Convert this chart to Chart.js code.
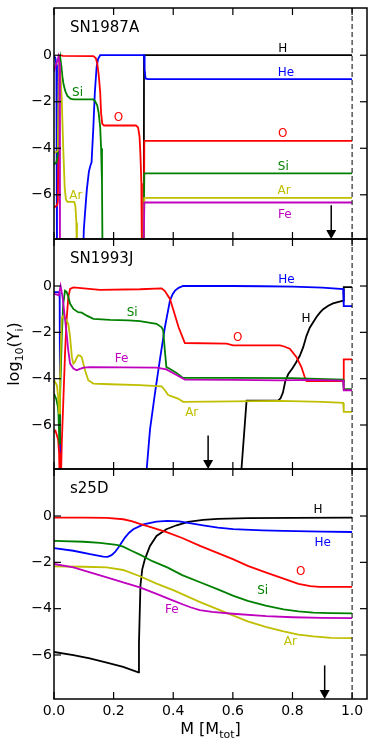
<!DOCTYPE html>
<html><head><meta charset="utf-8">
<script src="https://cdn.jsdelivr.net/npm/chart.js@4.4.1/dist/chart.umd.min.js"></script>
<style>
html,body{margin:0;padding:0;background:#fff;}
#wrap{position:relative;width:374px;height:747px;overflow:hidden;background:#fff;}
.box{position:absolute;left:0;width:374px;}
</style></head><body>
<div id="wrap">
<div class="box" style="top:0px;height:240px"><canvas id="c1"></canvas></div>
<div class="box" style="top:230px;height:240px"><canvas id="c2"></canvas></div>
<div class="box" style="top:460px;height:287px"><canvas id="c3"></canvas></div>
</div>
<script>
// ---------- axes / categories ----------
const X_TICKS = [0, 0.2, 0.4, 0.6, 0.8, 1.0];
const Y_TICKS = [-6, -4, -2, 0];
const X_MIN = 0, X_MAX = 1.05, X_EDGE = 1.0;
const Y_MIN = -7.9, Y_MAX = 2.03;
const SPECIES = ['H', 'He', 'O', 'Si', 'Ar', 'Fe'];
const PANEL_TITLES = ['SN1987A', 'SN1993J', 's25D'];
const ARROW_X = [0.93, 0.517, 0.908];
const ARROW_TOP = -6.45;
const X_TITLE = ['M [M', 'tot', ']'];
const Y_TITLE = ['log', '10', '(Y', 'i', ')'];

// ---------- SN1987A  [mass fraction, log10 Y] ----------
const SN1987A_H = [[0.301,-9],[0.302,0],[1.0,0]];
const SN1987A_He = [[0,-0.05],[0.004,-0.1],[0.008,-0.4],[0.010,-9],[0.097,-9],[0.100,-7.5],[0.104,-6.8],[0.110,-5.8],[0.117,-5.0],[0.122,-4.75],[0.126,-4.6],[0.132,-3.1],[0.137,-1.6],[0.143,-0.5],[0.148,-0.15],[0.155,0],[0.302,0],[0.304,-0.6],[0.307,-1.0],[0.315,-1.03],[1.0,-1.03]];
const SN1987A_O = [[0,-6.55],[0.005,-6.5],[0.010,-6.45],[0.013,-6.3],[0.016,-3.0],[0.018,-0.3],[0.020,-0.05],[0.022,0],[0.030,-0.03],[0.132,-0.04],[0.140,-0.12],[0.145,-0.35],[0.150,-0.85],[0.155,-1.6],[0.158,-2.5],[0.162,-2.95],[0.168,-3.02],[0.275,-3.02],[0.282,-3.1],[0.287,-3.5],[0.290,-4.3],[0.293,-5.5],[0.295,-9],[0.301,-9],[0.303,-3.68],[1.0,-3.68]];
const SN1987A_Si = [[0,-4.7],[0.008,-4.6],[0.013,-4.3],[0.016,-3.0],[0.019,-0.3],[0.021,-0.1],[0.025,-0.5],[0.028,-0.9],[0.032,-1.25],[0.038,-1.55],[0.045,-1.75],[0.055,-1.87],[0.065,-1.9],[0.132,-1.9],[0.138,-1.98],[0.145,-2.15],[0.150,-2.5],[0.155,-3.1],[0.158,-4.0],[0.161,-5.5],[0.163,-9],[0.300,-9],[0.303,-5.08],[1.0,-5.08]];
const SN1987A_Ar = [[0,-4.2],[0.008,-4.15],[0.013,-4.1],[0.015,-2.0],[0.017,-0.4],[0.020,-0.5],[0.022,-0.9],[0.026,-1.9],[0.031,-4.0],[0.036,-5.7],[0.040,-6.2],[0.045,-6.3],[0.068,-6.3],[0.072,-6.5],[0.075,-7.2],[0.077,-9],[0.300,-9],[0.303,-6.13],[1.0,-6.13]];
const SN1987A_Fe = [[0,-0.7],[0.004,-0.5],[0.010,-0.3],[0.015,-0.05],[0.018,-0.3],[0.020,-9],[0.300,-9],[0.303,-6.33],[1.0,-6.33]];

// ---------- SN1993J ----------
const SN1993J_H = [[0.6225,-9],[0.646,-4.95],[0.752,-4.95],[0.760,-4.85],[0.768,-4.6],[0.776,-4.1],[0.786,-3.8],[0.800,-3.55],[0.812,-3.3],[0.825,-3.0],[0.836,-2.64],[0.847,-2.15],[0.858,-1.8],[0.870,-1.55],[0.880,-1.35],[0.892,-1.15],[0.903,-1.0],[0.920,-0.85],[0.936,-0.75],[0.955,-0.68],[0.970,-0.63],[0.972,-0.05],[1.0,-0.05]];
const SN1993J_He = [[0,-0.27],[0.017,-0.27],[0.019,-0.5],[0.021,-9],[0.305,-9],[0.311,-7.9],[0.322,-6.2],[0.339,-4.6],[0.355,-3.2],[0.372,-1.78],[0.389,-0.63],[0.398,-0.35],[0.406,-0.2],[0.418,-0.08],[0.433,0],[0.600,0],[0.700,-0.01],[0.800,-0.03],[0.900,-0.07],[0.970,-0.13],[0.972,-0.87],[1.0,-0.87]];
const SN1993J_O = [[0,-6.3],[0.005,-6.25],[0.010,-6.45],[0.014,-6.64],[0.017,-7.2],[0.020,-9],[0.023,-8.5],[0.026,-6.8],[0.031,-5.07],[0.037,-2.92],[0.042,-1.49],[0.048,-0.49],[0.054,-0.12],[0.065,-0.06],[0.100,-0.1],[0.154,-0.17],[0.288,-0.14],[0.361,-0.1],[0.372,-0.22],[0.389,-0.56],[0.401,-1.06],[0.418,-1.78],[0.439,-2.46],[0.579,-2.49],[0.601,-2.56],[0.758,-2.56],[0.770,-2.6],[0.791,-2.71],[0.813,-3.06],[0.830,-3.5],[0.841,-3.93],[0.847,-4.11],[0.970,-4.11],[0.972,-3.17],[1.0,-3.17]];
const SN1993J_Si = [[0,-4.64],[0.008,-4.9],[0.013,-5.2],[0.015,-5.5],[0.018,-6.8],[0.020,-5.0],[0.026,-2.2],[0.031,-0.77],[0.037,-0.2],[0.042,-0.25],[0.048,-0.45],[0.054,-0.77],[0.065,-0.99],[0.081,-1.13],[0.093,-1.15],[0.110,-1.28],[0.132,-1.42],[0.188,-1.46],[0.250,-1.48],[0.288,-1.52],[0.344,-1.63],[0.361,-1.78],[0.366,-1.9],[0.372,-2.8],[0.377,-3.5],[0.388,-3.57],[0.411,-3.75],[0.433,-3.97],[0.600,-3.97],[0.800,-3.98],[0.970,-4.04],[0.972,-4.45],[1.0,-4.45]];
const SN1993J_Ar = [[0,-4.07],[0.006,-4.2],[0.010,-4.3],[0.014,-4.8],[0.017,-5.5],[0.020,-4.1],[0.023,-2.5],[0.026,-1.4],[0.031,-1.28],[0.042,-1.49],[0.048,-1.63],[0.054,-2.2],[0.060,-3.07],[0.065,-3.35],[0.070,-3.28],[0.076,-3.1],[0.081,-2.99],[0.087,-3.0],[0.093,-3.07],[0.104,-3.64],[0.115,-4.07],[0.132,-4.21],[0.188,-4.24],[0.288,-4.28],[0.361,-4.33],[0.372,-4.5],[0.383,-4.71],[0.416,-4.86],[0.433,-5.0],[0.600,-4.98],[0.758,-4.96],[0.900,-5.0],[0.970,-5.04],[0.972,-5.43],[1.0,-5.43]];
const SN1993J_Fe = [[0,-0.34],[0.012,-0.38],[0.016,-0.4],[0.019,-0.2],[0.022,0],[0.025,-0.2],[0.029,-0.5],[0.035,-1.2],[0.042,-2.0],[0.048,-2.8],[0.054,-3.35],[0.065,-3.56],[0.076,-3.64],[0.087,-3.58],[0.100,-3.52],[0.121,-3.5],[0.344,-3.52],[0.377,-3.6],[0.411,-3.84],[0.439,-4.04],[0.600,-4.05],[0.758,-4.07],[0.850,-4.05],[0.970,-4.08],[0.972,-4.5],[1.0,-4.5]];

// ---------- s25D ----------
const S25D_H = [[0,-5.87],[0.065,-6.01],[0.12,-6.15],[0.177,-6.33],[0.232,-6.51],[0.283,-6.75],[0.285,-5.5],[0.287,-4.5],[0.290,-3.0],[0.296,-2.3],[0.305,-1.86],[0.322,-1.29],[0.344,-0.86],[0.377,-0.57],[0.411,-0.4],[0.45,-0.25],[0.50,-0.17],[0.55,-0.12],[0.65,-0.09],[0.8,-0.08],[1.0,-0.07]];
const S25D_He = [[0,-1.39],[0.065,-1.5],[0.121,-1.65],[0.165,-1.75],[0.180,-1.76],[0.193,-1.69],[0.205,-1.55],[0.216,-1.36],[0.238,-0.93],[0.252,-0.72],[0.266,-0.57],[0.3,-0.36],[0.344,-0.24],[0.38,-0.21],[0.42,-0.23],[0.445,-0.29],[0.5,-0.4],[0.55,-0.5],[0.601,-0.57],[0.7,-0.62],[0.769,-0.64],[0.9,-0.67],[1.0,-0.69]];
const S25D_O = [[0,-0.07],[0.1,-0.07],[0.177,-0.08],[0.232,-0.14],[0.26,-0.22],[0.288,-0.34],[0.33,-0.5],[0.38,-0.71],[0.43,-0.95],[0.49,-1.29],[0.55,-1.6],[0.6,-1.86],[0.65,-2.15],[0.71,-2.43],[0.77,-2.7],[0.82,-2.93],[0.86,-3.03],[0.89,-3.06],[0.93,-3.06],[1.0,-3.06]];
const S25D_Si = [[0,-1.07],[0.1,-1.11],[0.154,-1.16],[0.21,-1.25],[0.232,-1.32],[0.26,-1.5],[0.29,-1.68],[0.33,-1.95],[0.38,-2.22],[0.43,-2.55],[0.49,-2.86],[0.55,-3.17],[0.6,-3.44],[0.65,-3.66],[0.71,-3.87],[0.77,-4.03],[0.82,-4.12],[0.87,-4.17],[0.93,-4.19],[1.0,-4.2]];
const S25D_Ar = [[0,-2.17],[0.1,-2.19],[0.177,-2.22],[0.232,-2.33],[0.288,-2.6],[0.344,-2.92],[0.4,-3.2],[0.49,-3.72],[0.55,-4.03],[0.6,-4.29],[0.65,-4.55],[0.71,-4.79],[0.77,-4.98],[0.82,-5.12],[0.87,-5.2],[0.93,-5.26],[1.0,-5.27]];
const S25D_Fe = [[0,-2.07],[0.065,-2.22],[0.121,-2.43],[0.177,-2.65],[0.232,-2.86],[0.288,-3.08],[0.344,-3.36],[0.4,-3.65],[0.433,-3.82],[0.46,-3.95],[0.489,-4.06],[0.53,-4.14],[0.6,-4.22],[0.713,-4.32],[0.8,-4.37],[0.9,-4.4],[1.0,-4.41]];

// ---------- in-plot species labels [text, x, log10 Y] ----------
const LABELS_1987A = [['H',0.767,0.26],['He',0.778,-0.75],['O',0.767,-3.39],['Si',0.769,-4.78],['Ar',0.772,-5.81],['Fe',0.774,-6.86],['Si',0.079,-1.63],['O',0.216,-2.7],['Ar',0.073,-6.03]];
const LABELS_1993J = [['He',0.78,0.26],['Si',0.262,-1.18],['H',0.845,-1.42],['O',0.616,-2.23],['Fe',0.227,-3.14],['Ar',0.462,-5.47]];
const LABELS_S25D = [['H',0.886,0.26],['He',0.901,-1.14],['O',0.828,-2.41],['Si',0.70,-3.22],['Fe',0.395,-4.04],['Ar',0.793,-5.44]];

// ---------- styling ----------
const FONT = '"DejaVu Sans", "Liberation Sans", sans-serif';
const COLORS = {H:'#000000', He:'#0000ff', O:'#ff0000', Si:'#008000', Ar:'#bfbf00', Fe:'#bf00bf'};

function drawParts(ctx, parts, cx, cy, big, small, subDrop) {
  const widths = parts.map((p, i) => { ctx.font = (i % 2 ? small : big) + 'px ' + FONT; return ctx.measureText(p).width; });
  const total = widths.reduce((a, b) => a + b, 0);
  let xx = cx - total / 2;
  ctx.textAlign = 'left'; ctx.textBaseline = 'alphabetic';
  parts.forEach((p, i) => {
    ctx.font = (i % 2 ? small : big) + 'px ' + FONT;
    ctx.fillText(p, xx, cy + (i % 2 ? subDrop : 0));
    xx += widths[i];
  });
}

const framePlugin = {
  id: 'frame',
  afterDatasetsDraw(chart) {
    const o = chart.options.plugins.frame;
    const ctx = chart.ctx, a = chart.chartArea, x = chart.scales.x, y = chart.scales.y;
    const seg = (x1, y1, x2, y2) => { ctx.beginPath(); ctx.moveTo(x1, y1); ctx.lineTo(x2, y2); ctx.stroke(); };
    ctx.save();
    ctx.strokeStyle = '#000'; ctx.fillStyle = '#000';
    const xe = x.getPixelForValue(X_EDGE);
    ctx.lineWidth = 1; ctx.setLineDash([5, 3]);
    seg(xe, a.top, xe, a.bottom);
    ctx.setLineDash([]);
    const ax = x.getPixelForValue(o.arrowX), ay = y.getPixelForValue(ARROW_TOP), ab = y.getPixelForValue(Y_MIN);
    ctx.lineWidth = 1.5;
    seg(ax, ay, ax, ab - 8);
    ctx.beginPath(); ctx.moveTo(ax - 5, ab - 9); ctx.lineTo(ax + 5, ab - 9); ctx.lineTo(ax, ab); ctx.closePath(); ctx.fill();
    ctx.lineWidth = 1.2;
    X_TICKS.forEach(v => { const p = x.getPixelForValue(v); seg(p, a.top, p, a.top + 7); seg(p, a.bottom, p, a.bottom - 7); });
    Y_TICKS.forEach(v => { const p = y.getPixelForValue(v); seg(a.left, p, a.left + 7, p); seg(a.right, p, a.right - 7, p); });
    ctx.lineWidth = 1.5;
    ctx.strokeRect(a.left, a.top, a.right - a.left, a.bottom - a.top);
    ctx.font = '12px ' + FONT; ctx.textAlign = 'center'; ctx.textBaseline = 'middle';
    o.labels.forEach(([t, vx, vy]) => { ctx.fillStyle = COLORS[t]; ctx.fillText(t, x.getPixelForValue(vx), y.getPixelForValue(vy)); });
    ctx.fillStyle = '#000'; ctx.font = '15px ' + FONT; ctx.textAlign = 'left'; ctx.textBaseline = 'middle';
    ctx.fillText(o.title, a.left + 16, a.top + 20);
    if (o.yTitle) {
      ctx.save();
      ctx.translate(18.5, (a.top + a.bottom) / 2);
      ctx.rotate(-Math.PI / 2);
      drawParts(ctx, Y_TITLE, 0, 0, 16, 11, 4);
      ctx.restore();
    }
    if (o.xTitle) {
      drawParts(ctx, X_TITLE, (a.left + a.right) / 2, a.bottom + 35, 16, 11, 3.5);
    }
    ctx.restore();
  }
};

function noPad(sc) { sc.paddingTop = 0; sc.paddingBottom = 0; sc.paddingLeft = 0; sc.paddingRight = 0; }

function makeChart(id, series, title, labels, arrowX, cfg) {
  const datasets = SPECIES.map((s, i) => ({
    label: s, data: series[i], borderColor: COLORS[s], borderWidth: 1.8,
    pointRadius: 0, tension: 0, fill: false, order: SPECIES.length - i
  }));
  return new Chart(document.getElementById(id), {
    type: 'line',
    data: { datasets },
    options: {
      responsive: true, maintainAspectRatio: false, animation: false, devicePixelRatio: 1,
      layout: { padding: { left: 0, right: 7, top: cfg.top, bottom: cfg.bottom } },
      plugins: { legend: { display: false }, tooltip: { enabled: false },
        frame: { title, labels, arrowX, xTitle: cfg.xTitle, yTitle: cfg.yTitle } },
      scales: {
        x: { type: 'linear', min: X_MIN, max: X_MAX, display: cfg.showX,
          grid: { display: false, drawTicks: false }, border: { display: false },
          afterBuildTicks: sc => { sc.ticks = X_TICKS.map(v => ({ value: v })); },
          afterFit: sc => { sc.height = cfg.showX ? 48 : 0; noPad(sc); },
          ticks: { autoSkip: false, maxRotation: 0, padding: 4, color: '#000', font: { family: FONT, size: 14 },
            callback: v => Number(v).toFixed(1) } },
        y: { type: 'linear', min: Y_MIN, max: Y_MAX,
          grid: { display: false, drawTicks: false }, border: { display: false },
          afterBuildTicks: sc => { sc.ticks = Y_TICKS.map(v => ({ value: v })); },
          afterFit: sc => { sc.width = 54; noPad(sc); },
          ticks: { autoSkip: false, padding: 2, color: '#000', font: { family: FONT, size: 14 },
            callback: v => v < 0 ? '\u2212' + Math.abs(v) : String(v) } }
      }
    },
    plugins: [framePlugin]
  });
}

makeChart('c1', [SN1987A_H, SN1987A_He, SN1987A_O, SN1987A_Si, SN1987A_Ar, SN1987A_Fe], PANEL_TITLES[0], LABELS_1987A, ARROW_X[0],
  { top: 8, bottom: 1, showX: false, xTitle: false, yTitle: false });
makeChart('c2', [SN1993J_H, SN1993J_He, SN1993J_O, SN1993J_Si, SN1993J_Ar, SN1993J_Fe], PANEL_TITLES[1], LABELS_1993J, ARROW_X[1],
  { top: 9, bottom: 1, showX: false, xTitle: false, yTitle: true });
makeChart('c3', [S25D_H, S25D_He, S25D_O, S25D_Si, S25D_Ar, S25D_Fe], PANEL_TITLES[2], LABELS_S25D, ARROW_X[2],
  { top: 9, bottom: 0, showX: true, xTitle: true, yTitle: false });
</script>
</body></html>
